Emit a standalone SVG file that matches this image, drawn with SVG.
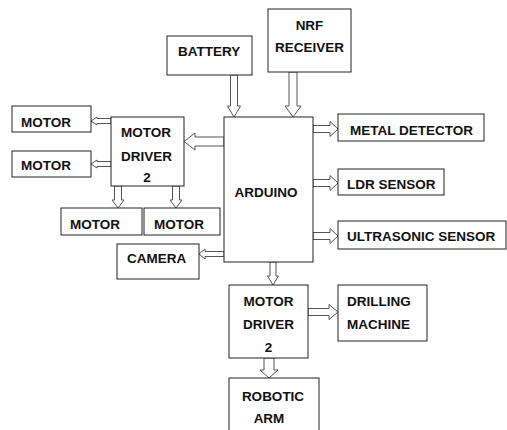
<svg xmlns="http://www.w3.org/2000/svg" width="507" height="430" viewBox="0 0 507 430">
<style>
.box{fill:#fff;stroke:#222;stroke-width:1}
.arr{fill:#fff;stroke:#555;stroke-width:1;stroke-linejoin:miter}
text{font-family:"Liberation Sans",Arial,sans-serif;font-weight:bold;font-size:13.5px;fill:#111}
.c{text-anchor:middle}
</style>
<rect width="507" height="430" fill="#fff"/>
<g id="connectors">
<polygon class="arr" points="230.5,75 237.5,75 237.5,106 240.5,106 234,117 227.5,106 230.5,106"/>
<polygon class="arr" points="289,72 297,72 297,106 301,106 293,117 285,106 289,106"/>
<polygon class="arr" points="224,137 195,137 195,133 184,141.5 195,150 195,146 224,146"/>
<polygon class="arr" points="111,118.5 97,118.5 97,117 91,121 97,125 97,123.5 111,123.5"/>
<polygon class="arr" points="111,161.5 97,161.5 97,160 91,164 97,168 97,166.5 111,166.5"/>
<polygon class="arr" points="114.5,186 121.5,186 121.5,200 124,200 118,208 112,200 114.5,200"/>
<polygon class="arr" points="172.5,186 179.5,186 179.5,200 182,200 176,208 170,200 172.5,200"/>
<polygon class="arr" points="224,251.5 205,251.5 205,249 199,254 205,259 205,256.5 224,256.5"/>
<polygon class="arr" points="313,125.5 330,125.5 330,121.5 338,129 330,136.5 330,132.5 313,132.5"/>
<polygon class="arr" points="313,179.5 330,179.5 330,175.5 338,183 330,190.5 330,186.5 313,186.5"/>
<polygon class="arr" points="313,232.5 330,232.5 330,228.5 338,236 330,243.5 330,239.5 313,239.5"/>
<polygon class="arr" points="270,262 276,262 276,276 278.5,276 273,285 267.5,276 270,276"/>
<polygon class="arr" points="308,308.5 329,308.5 329,304.5 338,312 329,319.5 329,315.5 308,315.5"/>
<polygon class="arr" points="264,358 274,358 274,370 278,370 269,378 260,370 264,370"/>
</g>
<g id="battery"><rect class="box" x="167" y="36" width="85" height="39"/><text x="178" y="56">BATTERY</text></g>
<g id="nrf"><rect class="box" x="268" y="9" width="83" height="63"/><text class="c" x="309.5" y="30">NRF</text><text class="c" x="309.5" y="52">RECEIVER</text></g>
<g id="arduino"><rect class="box" x="224" y="117" width="89" height="145"/><text class="c" x="266" y="197">ARDUINO</text></g>
<g id="motor1"><rect class="box" x="12" y="106" width="79" height="26"/><text x="21" y="127">MOTOR</text></g>
<g id="motor2"><rect class="box" x="12" y="151" width="79" height="26"/><text x="21" y="170">MOTOR</text></g>
<g id="motordriver1"><rect class="box" x="111" y="117" width="73" height="69"/><text x="121" y="137">MOTOR</text><text x="121" y="161">DRIVER</text><text class="c" x="147" y="182">2</text></g>
<g id="motor3"><rect class="box" x="61" y="208" width="81" height="27"/><text x="70" y="229">MOTOR</text></g>
<g id="motor4"><rect class="box" x="144" y="208" width="76" height="27"/><text x="154" y="229">MOTOR</text></g>
<g id="camera"><rect class="box" x="117" y="244" width="82" height="35"/><text x="127" y="263">CAMERA</text></g>
<g id="metal"><rect class="box" x="338" y="114" width="146" height="27"/><text x="350" y="135">METAL DETECTOR</text></g>
<g id="ldr"><rect class="box" x="338" y="169" width="106" height="26"/><text x="347" y="189">LDR SENSOR</text></g>
<g id="ultrasonic"><rect class="box" x="338" y="221" width="168" height="28"/><text x="347" y="241">ULTRASONIC SENSOR</text></g>
<g id="motordriver2"><rect class="box" x="229" y="285" width="79" height="73"/><text class="c" x="268.5" y="306">MOTOR</text><text class="c" x="268.5" y="329">DRIVER</text><text class="c" x="268.5" y="352">2</text></g>
<g id="drilling"><rect class="box" x="338" y="285" width="89" height="56"/><text x="347" y="306">DRILLING</text><text x="347" y="329">MACHINE</text></g>
<g id="robotic"><rect class="box" x="229" y="378" width="90" height="60"/><text class="c" x="273" y="401">ROBOTIC</text><text class="c" x="269" y="423">ARM</text></g>
</svg>
